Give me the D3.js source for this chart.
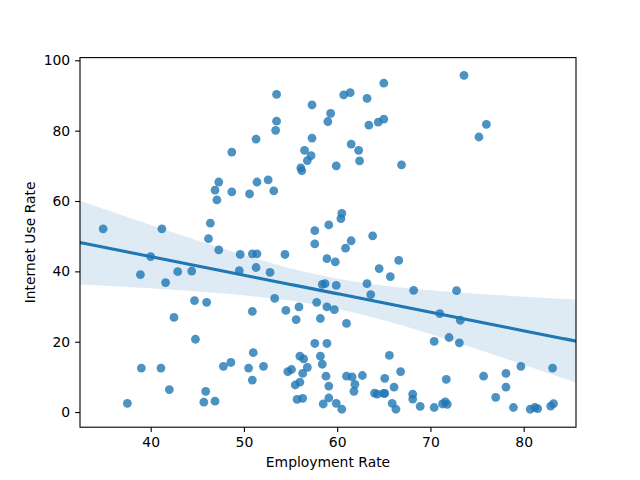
<!DOCTYPE html>
<html>
<head>
<meta charset="utf-8">
<script src="https://cdn.jsdelivr.net/npm/d3@7"></script>
<style>
body { margin: 0; background: #fff; }
svg { display: block; }
text { font-family: "DejaVu Sans", sans-serif; }
</style>
</head>
<body>
<svg id="chart" width="640" height="480"></svg>
<script>
const employmentRate = [
  48.7,53.5,57.3,60.7,61.4,65.0,63.2,53.5,53.4,51.3,59.3,59.0,63.4,64.4,65.0,57.3,61.5,62.3,62.4,56.5,
  57.2,56.8,56.1,56.2,59.9,66.9,73.6,76.0,75.2,47.3,46.9,48.7,50.6,47.1,34.9,41.2,46.4,46.2,47.3,49.6,
  40.0,38.9,41.6,42.9,44.4,49.5,51.4,52.6,53.2,60.5,60.4,59.1,57.6,57.6,63.8,61.5,60.9,50.9,51.4,54.4,
  58.9,59.8,66.6,64.5,65.7,51.3,52.8,58.4,58.7,59.9,63.2,63.6,68.2,72.8,44.7,46.0,42.5,44.8,39.0,41.1,
  47.8,48.6,42.0,45.9,45.7,46.9,37.5,53.3,50.9,54.5,55.9,55.6,57.8,58.9,59.7,58.2,61.0,57.6,58.9,51.0,
  56.0,56.4,58.2,58.4,56.8,54.7,55.1,56.3,50.5,52.1,50.9,56.0,55.5,58.8,59.1,55.7,56.3,59.1,58.5,59.9,
  60.5,61.0,61.6,62.7,61.9,61.8,65.6,66.8,65.1,66.1,64.0,64.3,65.0,65.1,65.9,66.3,68.1,68.1,71.0,73.2,
  70.4,72.0,73.1,71.7,68.9,70.4,71.3,71.6,71.8,75.7,78.1,79.7,78.1,77.0,78.9,80.7,81.2,81.5,83.1,82.9,
  83.2
];
const internetUseRate = [
  73.9,90.3,87.3,90.2,90.8,93.5,89.2,82.7,80.1,77.6,84.9,82.6,81.6,82.4,83.3,77.9,76.2,74.4,71.4,74.4,
  72.9,71.5,69.4,68.6,70.0,70.3,95.7,81.8,78.2,65.4,63.1,62.6,62.0,60.3,52.1,52.1,53.7,49.3,46.1,44.8,
  44.2,39.1,36.8,39.9,40.1,40.2,65.4,66.0,62.9,56.5,55.0,53.2,51.6,47.8,50.1,48.7,46.6,45.0,45.0,44.8,
  43.6,42.7,43.1,40.8,38.5,41.1,39.7,36.3,36.5,36.0,36.5,33.4,34.6,34.5,31.7,31.2,26.9,20.7,12.5,12.5,
  13.0,14.1,6.4,5.9,2.8,3.1,2.5,32.3,28.6,28.9,29.9,26.3,31.2,29.9,29.1,26.6,25.2,19.5,19.5,16.9,
  15.9,15.1,15.9,13.6,12.7,11.5,12.1,11.0,12.5,13.0,9.1,8.5,7.7,10.2,7.4,3.6,3.9,4.0,2.3,2.5,
  0.8,10.2,10.0,10.4,7.9,5.9,16.1,11.5,9.6,7.1,5.4,5.1,5.3,5.3,2.5,0.8,5.1,3.7,28.0,26.1,
  20.1,21.2,19.7,9.3,1.6,1.3,2.3,2.9,2.2,10.2,11.0,13.0,7.1,4.2,1.3,0.8,1.3,1.0,12.5,1.7,
  2.4
];
const xTicks = [40, 50, 60, 70, 80];
const yTicks = [0, 20, 40, 60, 80, 100];
const xLabel = "Employment Rate";
const yLabel = "Internet Use Rate";

const W = 640, H = 480;
const L = 80, R = 576, T = 57.6, B = 427.2;
const color = "#1f77b4";

const svg = d3.select("#chart");
const x = d3.scaleLinear().domain([32.42, 85.61]).range([L, R]);
const y = d3.scaleLinear().domain([-4.3, 100.77]).range([B, T]);

const pts = employmentRate.map((v, i) => ({ x: v, y: internetUseRate[i] }));

// OLS regression with 95% confidence band
const n = pts.length;
const mx = d3.mean(pts, d => d.x), my = d3.mean(pts, d => d.y);
const sxx = d3.sum(pts, d => (d.x - mx) ** 2);
const sxy = d3.sum(pts, d => (d.x - mx) * (d.y - my));
const b1 = sxy / sxx, b0 = my - b1 * mx;
const sse = d3.sum(pts, d => (d.y - (b0 + b1 * d.x)) ** 2);
const s = Math.sqrt(sse / (n - 2));
const tcrit = 1.975;
const grid = d3.range(100).map(i => x.domain()[0] + (x.domain()[1] - x.domain()[0]) * i / 99);
const fit = grid.map(g => {
  const yh = b0 + b1 * g;
  const se = s * Math.sqrt(1 / n + (g - mx) ** 2 / sxx);
  return { x: g, y: yh, lo: yh - tcrit * se, hi: yh + tcrit * se };
});

const clip = svg.append("defs").append("clipPath").attr("id", "clip")
  .append("rect").attr("x", L).attr("y", T).attr("width", R - L).attr("height", B - T);

const plot = svg.append("g").attr("clip-path", "url(#clip)");

plot.selectAll("circle").data(pts).join("circle")
  .attr("cx", d => x(d.x)).attr("cy", d => y(d.y)).attr("r", 4.4)
  .attr("fill", color).attr("fill-opacity", 0.8);

plot.append("path").datum(fit)
  .attr("d", d3.area().x(d => x(d.x)).y0(d => y(d.lo)).y1(d => y(d.hi)))
  .attr("fill", color).attr("fill-opacity", 0.15);

plot.append("path").datum(fit)
  .attr("d", d3.line().x(d => x(d.x)).y(d => y(d.y)))
  .attr("fill", "none").attr("stroke", color).attr("stroke-width", 3.1);

// axes
const xAxis = svg.append("g").attr("transform", `translate(0,${B})`)
  .call(d3.axisBottom(x).tickValues(xTicks).tickSize(4.9).tickPadding(4.9));
const yAxis = svg.append("g").attr("transform", `translate(${L},0)`)
  .call(d3.axisLeft(y).tickValues(yTicks).tickSize(4.9).tickPadding(4.9));
[xAxis, yAxis].forEach(a => {
  a.selectAll("text").attr("font-size", 13.9).attr("fill", "#000").style("font-family", "DejaVu Sans");
  a.selectAll("line").attr("stroke", "#000").attr("stroke-width", 1.1);
  a.select(".domain").remove();
});

svg.append("rect").attr("x", L).attr("y", T).attr("width", R - L).attr("height", B - T)
  .attr("fill", "none").attr("stroke", "#000").attr("stroke-width", 1.1);

svg.append("text").attr("x", (L + R) / 2).attr("y", 467)
  .attr("text-anchor", "middle").attr("font-size", 13.9).text(xLabel);
svg.append("text").attr("transform", `translate(35,${(T + B) / 2}) rotate(-90)`)
  .attr("text-anchor", "middle").attr("font-size", 13.9).text(yLabel);
</script>
</body>
</html>
